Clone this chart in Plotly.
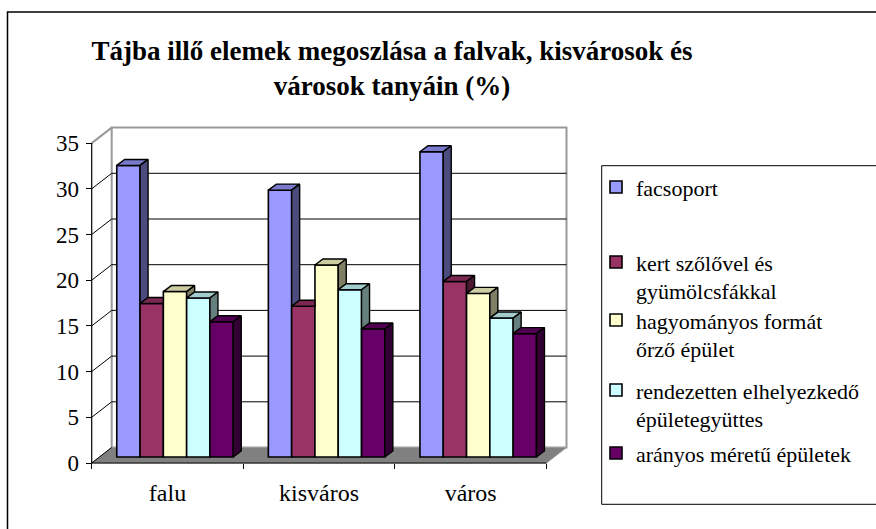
import plotly.graph_objects as go

# ---------------- data ----------------
categories = ["falu", "kisváros", "város"]
series_names = [
    "facsoport",
    "kert szőlővel és<br>gyümölcsfákkal",
    "hagyományos formát<br>őrző épület",
    "rendezetten elhelyezkedő<br>épületegyüttes",
    "arányos méretű épületek",
]
facsoport = [31.9, 29.2, 33.4]
kert = [16.8, 16.5, 19.2]
hagyomanyos = [18.1, 21.0, 17.9]
rendezetten = [17.4, 18.3, 15.2]
aranyos = [14.8, 14.0, 13.5]
y_tick_values = [0, 5, 10, 15, 20, 25, 30, 35]
title_text = "Tájba illő elemek megoszlása a falvak, kisvárosok és<br>városok tanyáin (%)"

series_values = [facsoport, kert, hagyomanyos, rendezetten, aranyos]
front_colors = ["#9999FF", "#993366", "#FFFFCC", "#CCFFFF", "#660066"]

# ---------------- layout geometry (pixels) ----------------
W, H = 876, 529
PL, PR, PT, PB = 82, 580, 110, 470       # plot area
OX, OY = 91.7, 463                        # front corner of the axes
U = 151.6                                 # px per category
VU = 9.14                                 # px per value unit
BACK_DX, BACK_DY = 20, 15.5               # depth of the floor
BAR_DX, BAR_DY = 7.5, 6                   # bars' front plane shift
DEPTH_DX, DEPTH_DY = 8, 6                 # bar depth
BW = 23.3 / U
FONT = "Liberation Serif"


def fx(px):
    return -0.5 + (px - OX) / U


def fy(py):
    return (OY - py) / VU


def xp(px):
    return (px - PL) / (PR - PL)


def yp(py):
    return (PB - py) / (PB - PT)


x_range = [fx(PL), fx(PR)]
y_range = [fy(PB), fy(PT)]
x2_range = [v - BAR_DX / U for v in x_range]
y2_range = [v - BAR_DY / VU for v in y_range]
ddx, ddy = DEPTH_DX / U, DEPTH_DY / VU
dxb, dyb = BACK_DX / U, BACK_DY / VU
vmax = y_tick_values[-1]
xl, xr = -0.5, len(categories) - 0.5


def shade(hexc, f):
    h = hexc.lstrip("#")
    r, g, b = (int(h[i:i + 2], 16) for i in (0, 2, 4))
    return "rgb(%d,%d,%d)" % (r * f, g * f, b * f)


fig = go.Figure()

# invisible trace to carry the category axis
fig.add_trace(go.Scatter(x=categories, y=[0] * len(categories), mode="markers",
                         marker=dict(opacity=0), showlegend=False, hoverinfo="skip"))

legend_ids = ["legend", "legend2", "legend3", "legend4", "legend5"]
for k, vals in enumerate(series_values):
    fig.add_trace(go.Bar(
        x=[i + (k - 2) * BW for i in range(len(categories))], y=vals, width=BW,
        name=series_names[k], customdata=categories,
        hovertemplate="%{customdata}: %{y}<extra></extra>",
        marker=dict(color=front_colors[k], line=dict(color="black", width=1.6)),
        xaxis="x2", yaxis="y2", legend=legend_ids[k]))

# 3-D top and side faces, computed from the same values
for k, vals in enumerate(series_values):
    tx, ty, sx, sy = [], [], [], []
    for i in range(len(categories)):
        V = vals[i]
        L = i + (k - 2.5) * BW
        R = L + BW
        Vn = series_values[k + 1][i] if k < len(series_values) - 1 else None
        if Vn is None or Vn <= V:
            tx += [L, L + ddx, R + ddx, R, L, None]
            ty += [V, V + ddy, V + ddy, V, V, None]
        elif Vn >= V + ddy:
            tx += [L, L + ddx, R, R, L, None]
            ty += [V, V + ddy, V + ddy, V, V, None]
        else:
            t = (Vn - V) / ddy
            tx += [L, L + ddx, R + ddx, R + t * ddx, R, R, L, None]
            ty += [V, V + ddy, V + ddy, Vn, Vn, V, V, None]
        if Vn is None or Vn < V:
            base = 0 if Vn is None else Vn
            sx += [R, R + ddx, R + ddx, R, R, None]
            sy += [base, base + ddy, V + ddy, V, base, None]
    fig.add_trace(go.Scatter(x=tx, y=ty, mode="lines", fill="toself",
                             fillcolor=shade(front_colors[k], 0.8),
                             line=dict(color="black", width=1.4),
                             xaxis="x2", yaxis="y2", showlegend=False, hoverinfo="skip"))
    if sx:
        fig.add_trace(go.Scatter(x=sx, y=sy, mode="lines", fill="toself",
                                 fillcolor=shade(front_colors[k], 0.5),
                                 line=dict(color="black", width=1.4),
                                 xaxis="x2", yaxis="y2", showlegend=False, hoverinfo="skip"))

# ---------------- walls, floor, gridlines ----------------
shapes = []
GRAY = "#999999"
# back wall
shapes.append(dict(type="rect", xref="x", yref="y", x0=xl + dxb, x1=xr + dxb, y0=dyb, y1=vmax + dyb,
                   fillcolor="white", line=dict(color=GRAY, width=2), layer="below"))
# floor
shapes.append(dict(type="path", xref="x", yref="y",
                   path="M %f,%f L %f,%f L %f,%f L %f,%f Z" % (xl, 0, xr, 0, xr + dxb, dyb, xl + dxb, dyb),
                   fillcolor="#808080", line=dict(color=GRAY, width=1), layer="below"))
for v in y_tick_values[1:-1]:
    shapes.append(dict(type="line", xref="x", yref="y", x0=xl + dxb, x1=xr + dxb, y0=v + dyb, y1=v + dyb,
                       line=dict(color="black", width=1), layer="below"))
for v in y_tick_values[:-1]:
    shapes.append(dict(type="line", xref="x", yref="y", x0=xl, x1=xl + dxb, y0=v, y1=v + dyb,
                       line=dict(color="black", width=1), layer="below"))
shapes.append(dict(type="line", xref="x", yref="y", x0=xl, x1=xl + dxb, y0=vmax, y1=vmax + dyb,
                   line=dict(color=GRAY, width=2), layer="below"))
# front axis lines
shapes.append(dict(type="line", xref="x", yref="y", x0=xl, x1=xl, y0=0, y1=vmax,
                   line=dict(color="black", width=1.2), layer="below"))
shapes.append(dict(type="line", xref="x", yref="y", x0=xl, x1=xr, y0=0, y1=0,
                   line=dict(color="black", width=1.2), layer="below"))
# outer chart border and legend box
shapes.append(dict(type="rect", xref="paper", yref="paper", x0=xp(7.5), x1=xp(885), y0=yp(540), y1=yp(12),
                   line=dict(color="black", width=1.5), fillcolor="rgba(0,0,0,0)", layer="below"))
shapes.append(dict(type="rect", xref="paper", yref="paper", x0=xp(601.7), x1=xp(885), y0=yp(504.3), y1=yp(165.7),
                   line=dict(color="black", width=1), fillcolor="rgba(0,0,0,0)", layer="below"))

legend_first_line = [187, 262, 320, 390, 453]
LEG_LEFT = 596
LEG_SIZE = 22
legend_font = dict(family=FONT, size=LEG_SIZE, color="black")
first_offset = 5 + (1.3 * LEG_SIZE + 3) / 2
legends = {}
for k, lid in enumerate(legend_ids):
    legends[lid] = dict(xref="container", yref="container", x=LEG_LEFT / W,
                        y=1 - (legend_first_line[k] - first_offset) / H, xanchor="left", yanchor="top",
                        bgcolor="rgba(0,0,0,0)", borderwidth=0, valign="top",
                        font=legend_font)

fig.update_layout(
    width=W, height=H,
    margin=dict(l=PL, r=W - PR, t=PT, b=H - PB, pad=0),
    paper_bgcolor="white", plot_bgcolor="white",
    font=dict(family=FONT, color="black", size=20),
    barmode="overlay",
    showlegend=True,
    title=dict(text=title_text, x=392 / W, xanchor="center", xref="container",
               y=1 - 60 / H, yanchor="top", yref="container",
               font=dict(family=FONT, size=27, color="black", weight="bold")),
    xaxis=dict(type="category", categoryarray=categories, range=x_range, tickson="boundaries",
               ticks="outside", ticklen=5, tickcolor="black", tickwidth=1,
               showline=False, showgrid=False, zeroline=False, automargin=False,
               anchor="free", position=yp(OY), ticklabelstandoff=13,
               tickfont=dict(family=FONT, size=24, color="black")),
    yaxis=dict(range=y_range, tickvals=y_tick_values, ticks="outside", ticklen=6,
               tickcolor="black", tickwidth=1, showline=False, showgrid=False, zeroline=False,
               automargin=False, anchor="free", position=xp(OX), ticklabelstandoff=2,
               tickfont=dict(family=FONT, size=23, color="black")),
    xaxis2=dict(overlaying="x", anchor="y2", range=x2_range, visible=False),
    yaxis2=dict(overlaying="y", anchor="x2", range=y2_range, visible=False),
    shapes=shapes,
    **legends,
)

fig.write_html("out.html", config={"displayModeBar": False},
               post_script="document.body.style.margin='0';document.body.style.overflow='hidden';")
